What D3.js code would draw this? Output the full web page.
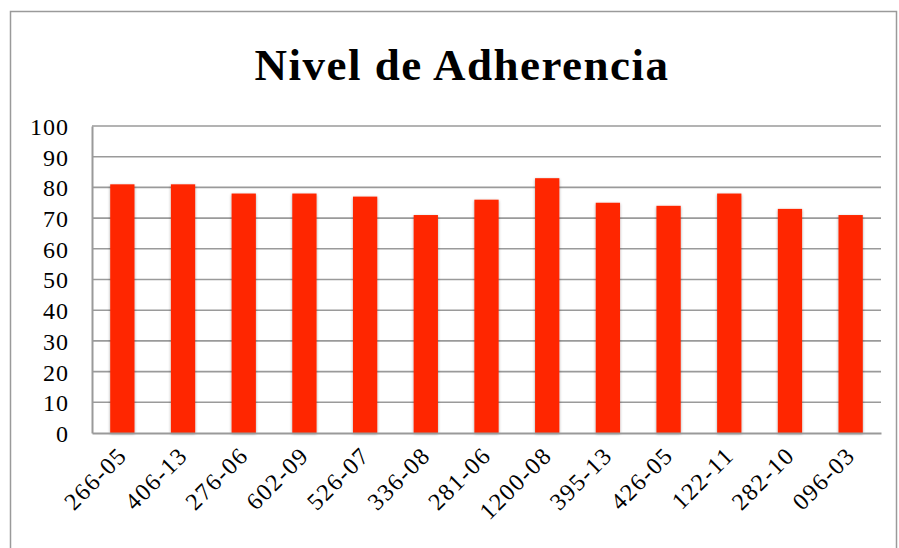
<!DOCTYPE html>
<html>
<head>
<meta charset="utf-8">
<script src="https://cdn.jsdelivr.net/npm/d3@7"></script>
<style>
body{margin:0;background:#fff;}
svg{display:block;}
</style>
</head>
<body>
<script>
const width=899;
const height=548;
const categories=['266-05','406-13','276-06','602-09','526-07','336-08','281-06','1200-08','395-13','426-05','122-11','282-10','096-03'];
const values=[81,81,78,78,77,71,76,83,75,74,78,73,71];
const yTicks=[0,10,20,30,40,50,60,70,80,90,100];
const margin={top:126,bot:115,left:92,right:18};
const fontFam="'Liberation Serif','DejaVu Serif',serif";

const svg=d3.select('body').append('svg').attr('width',width).attr('height',height);

svg.append('rect').attr('x',10.5).attr('y',11.5).attr('width',886).attr('height',600)
    .attr('fill','#fff').attr('stroke','#9a9a9a').attr('stroke-width',1.5);

svg.append('text').text('Nivel de Adherencia')
    .attr('x',462).attr('y',80).attr('text-anchor','middle')
    .style('font-family',fontFam).style('font-weight','bold').style('font-size','45px')
    .style('letter-spacing','1.5px');

const x=d3.scaleBand().domain(categories).range([margin.left,width-margin.right]).paddingInner(0.6).paddingOuter(0.3);
const y=d3.scaleLinear().domain([0,100]).range([height-margin.bot,margin.top]);

// gridlines
svg.append('g').selectAll('line').data(yTicks.filter(d=>d>0)).enter().append('line')
    .attr('x1',margin.left).attr('x2',width-margin.right)
    .attr('y1',d=>y(d)).attr('y2',d=>y(d))
    .attr('stroke','#9a9a9a').attr('stroke-width',1.6);

const defs=svg.append('defs');
const f=defs.append('filter').attr('id','sh').attr('x','-30%').attr('y','-10%').attr('width','160%').attr('height','130%');
f.append('feGaussianBlur').attr('in','SourceAlpha').attr('stdDeviation',1.5);
f.append('feOffset').attr('dx',0).attr('dy',1).attr('result','b');
f.append('feComponentTransfer').append('feFuncA').attr('type','linear').attr('slope',0.35);
const m=f.append('feMerge');
m.append('feMergeNode');
m.append('feMergeNode').attr('in','SourceGraphic');

svg.append('g').selectAll('rect').data(values).enter().append('rect')
    .attr('x',(d,i)=>x(categories[i]))
    .attr('width',x.bandwidth())
    .attr('y',d=>y(d))
    .attr('height',d=>y(0)-y(d))
    .attr('fill','#ff2600')
    .attr('filter','url(#sh)');

// axes
const yAxis=d3.axisLeft(y).tickValues(yTicks).tickSize(0).tickPadding(23);
const gy=svg.append('g').attr('transform',`translate(${margin.left},0)`).call(yAxis);
gy.select('.domain').attr('stroke','#9a9a9a').attr('stroke-width',2);
gy.selectAll('text').style('font-family',fontFam).style('font-size','24px').style('letter-spacing','1px')
    .attr('fill','#000').attr('dy','0.35em');

const xAxis=d3.axisBottom(x).tickSize(0).tickSizeOuter(0);
const gx=svg.append('g').attr('transform',`translate(0,${y(0)})`).call(xAxis);
gx.select('.domain').attr('stroke','#9a9a9a').attr('stroke-width',2);
gx.selectAll('text')
    .style('font-family',fontFam).style('font-size','24px').style('letter-spacing','1.5px').attr('fill','#000')
    .attr('text-anchor','end').attr('dy',0).attr('y',0)
    .attr('transform',d=>`translate(6,24) rotate(-45)`);
</script>
</body>
</html>
